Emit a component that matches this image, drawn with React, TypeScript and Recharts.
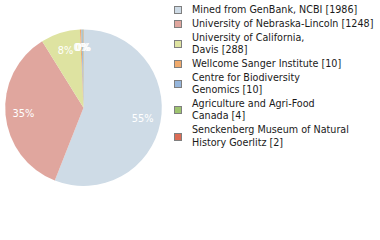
import { PieChart, Pie, Cell, Legend } from 'recharts'

const NAMES = [
  'Mined from GenBank, NCBI',
  'University of Nebraska-Lincoln',
  'University of California, Davis',
  'Wellcome Sanger Institute',
  'Centre for Biodiversity Genomics',
  'Agriculture and Agri-Food Canada',
  'Senckenberg Museum of Natural History Goerlitz',
]

// legend text as wrapped in the original
const LEGEND_LINES = [
  ['Mined from GenBank, NCBI [1986]'],
  ['University of Nebraska-Lincoln [1248]'],
  ['University of California,', 'Davis [288]'],
  ['Wellcome Sanger Institute [10]'],
  ['Centre for Biodiversity', 'Genomics [10]'],
  ['Agriculture and Agri-Food', 'Canada [4]'],
  ['Senckenberg Museum of Natural', 'History Goerlitz [2]'],
]

const COUNTS = [1986, 1248, 288, 10, 10, 4, 2]

const COLORS = ['#cedbe6', '#e0a69e', '#dee3a1', '#f0aa6c', '#96b6dc', '#9ec46f', '#dc6c55']

const FONT = '"DejaVu Sans", Verdana, sans-serif'
const RAD = Math.PI / 180

const chartData = NAMES.map((name, i) => ({ name, value: COUNTS[i], color: COLORS[i] }))

function renderLabel({ cx, cy, midAngle, outerRadius, percent }: any) {
  const r = outerRadius * 0.77
  const x = cx + r * Math.cos(-midAngle * RAD)
  const y = cy + r * Math.sin(-midAngle * RAD)
  return (
    <text
      x={x}
      y={y}
      fill="#ffffff"
      textAnchor="middle"
      dominantBaseline="central"
      style={{ fontFamily: FONT, fontSize: 9.8 }}
    >
      {`${Math.floor((percent ?? 0) * 100)}%`}
    </text>
  )
}

function LegendBox() {
  return (
    <div style={{ fontFamily: FONT, fontSize: 9.6, color: '#1a1a1a', lineHeight: '12.3px' }}>
      {LEGEND_LINES.map((lines, i) => (
        <div key={i} style={{ display: 'flex', alignItems: 'center', marginBottom: 1.6 }}>
          <div
            style={{
              width: 8,
              height: 8,
              boxSizing: 'border-box',
              border: '1px solid #7f7f7f',
              background: COLORS[i],
              marginRight: 10,
              flexShrink: 0,
            }}
          />
          <div>
            {lines.map((l, j) => (
              <div key={j} style={{ whiteSpace: 'nowrap' }}>{l}</div>
            ))}
          </div>
        </div>
      ))}
    </div>
  )
}

export default function App() {
  return (
    <div style={{ position: 'absolute', left: 0, top: 0, width: 380, height: 240, background: '#fff' }}>
      <PieChart width={380} height={240} margin={{ top: 0, right: 0, bottom: 0, left: 0 }}>
        <Pie
          data={chartData}
          dataKey="value"
          cx={83.5}
          cy={107.7}
          outerRadius={78.3}
          startAngle={90}
          endAngle={-270}
          stroke="none"
          label={renderLabel}
          labelLine={false}
          isAnimationActive={false}
        >
          {chartData.map((entry, index) => (
            <Cell key={`cell-${index}`} fill={entry.color} />
          ))}
        </Pie>
        <Legend
          layout="vertical"
          verticalAlign="top"
          align="right"
          content={() => <LegendBox />}
          wrapperStyle={{ left: 174, top: 4, width: 206 }}
        />
      </PieChart>
    </div>
  )
}
